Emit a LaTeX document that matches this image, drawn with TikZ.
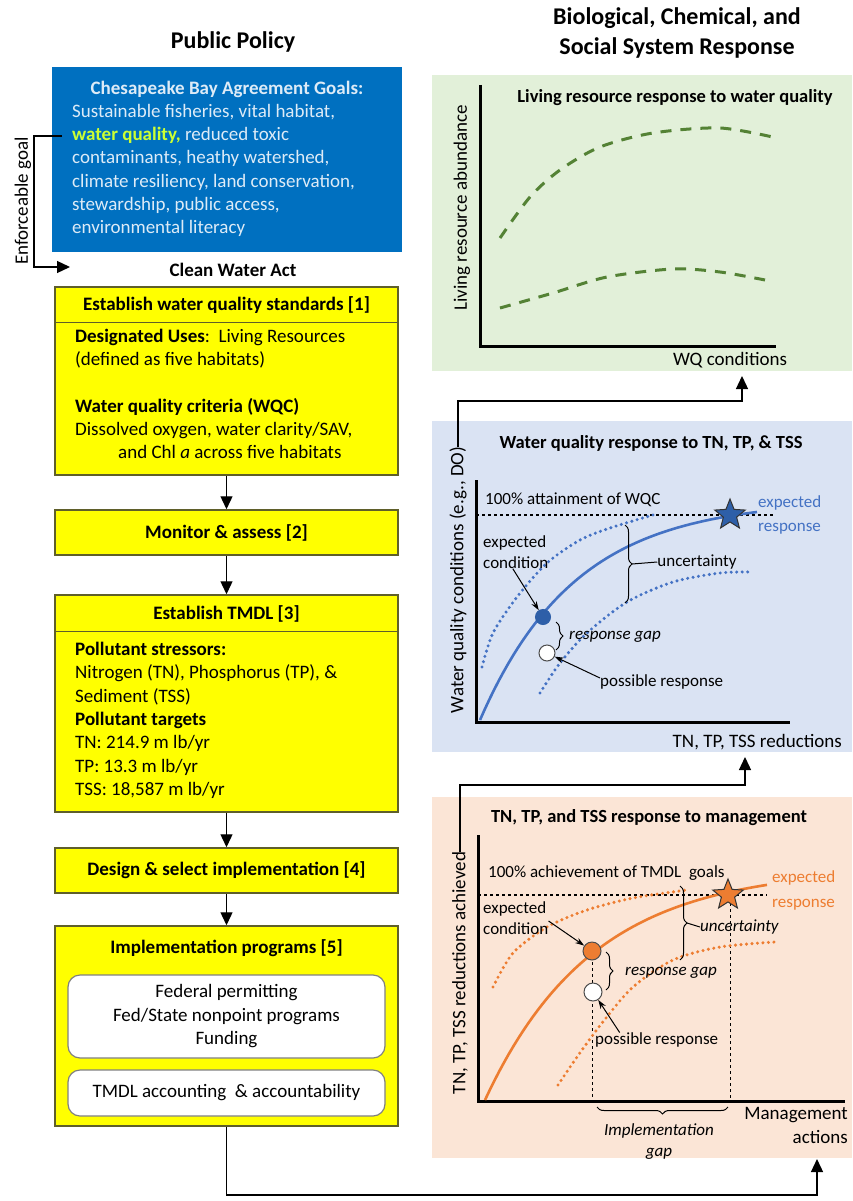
\documentclass[tikz,border=0pt]{standalone}
\usepackage{fontspec}
\setmainfont{Carlito}
\usepackage{tikz}
\usetikzlibrary{arrows.meta,calc,decorations.pathreplacing,shapes.geometric}
\definecolor{GoalBlue}{HTML}{0070C0}
\definecolor{GoalText}{HTML}{DDEBF7}
\definecolor{WQYellow}{HTML}{CCFF33}
\definecolor{BoxYellow}{HTML}{FFFF00}
\definecolor{BoxEdge}{HTML}{5F5F2A}
\definecolor{LeafBG}{HTML}{E2F0D9}
\definecolor{LeafDash}{HTML}{548235}
\definecolor{SkyBG}{HTML}{DAE3F3}
\definecolor{SkyLine}{HTML}{4472C4}
\definecolor{SkyStar}{HTML}{2E5FA8}
\definecolor{PeachBG}{HTML}{FBE5D6}
\definecolor{PeachLine}{HTML}{ED7D31}

\begin{document}
\begin{tikzpicture}[x=1pt,y=-1pt,
    head/.style={font=\fontsize{24}{30}\selectfont\bfseries,align=center},
    txt/.style={font=\fontsize{19}{23.3}\selectfont,align=left,inner sep=0pt},
    btxt/.style={font=\fontsize{19}{23}\selectfont\bfseries,inner sep=0pt},
    ybox/.style={draw=BoxEdge,fill=BoxYellow,line width=1.5pt,minimum width=343pt,inner sep=0pt},
    rbox/.style={draw=gray,fill=white,rounded corners=12pt,line width=1.2pt,minimum width=317pt,
      font=\fontsize{19}{23.5}\selectfont,align=center},
    flow/.style={-{Triangle[length=13pt,width=12pt]},line width=1.3pt},
    axis/.style={line width=3pt},
    lbl/.style={font=\fontsize{19}{24}\selectfont,inner sep=0pt},
    note/.style={font=\fontsize{17}{21}\selectfont,inner sep=0pt},
    ptitle/.style={font=\fontsize{18.5}{22}\selectfont\bfseries,inner sep=0pt},
    ptr/.style={-{Stealth[length=9pt,width=6pt]},line width=1pt},
    brc/.style={decorate,decoration={brace,amplitude=7pt},line width=1pt},
    dotline/.style={line width=3.4pt,line cap=round,dash pattern=on 0pt off 5.5pt},
    dot/.style={circle,draw=black!70,line width=1pt,minimum size=16pt,inner sep=0pt},
    goal/.style={star,star points=5,star point ratio=2.3,draw=black!80,line width=1pt,minimum size=32pt,inner sep=0pt}]

    \useasboundingbox (0,0) rectangle (852,1201);

    % column headings
    \node[head] (pp) at (233,42) {Public Policy};
    \node[head] (bcs) at (677,33) {Biological, Chemical, and\\Social System Response};

    % --- public policy column ---
    \node[fill=GoalBlue,minimum width=350pt,minimum height=185pt,inner sep=0pt] (goals) at (227,159.5) {};
    \node[btxt,text=GoalText] (goalshead) at (227,89) {Chesapeake Bay Agreement Goals:};
    \node[txt,text=GoalText,anchor=north west] (goalsbody) at (72,104)
      {Sustainable fisheries, vital habitat,\\
       {\color{WQYellow}\bfseries water quality,} reduced toxic\\
       contaminants, heathy watershed,\\
       climate resiliency, land conservation,\\
       stewardship, public access,\\
       environmental literacy};

    \coordinate (wq) at (62,136);
    \coordinate (cwatip) at (70,267);
    \node[btxt] (cwa) at (233,270) {Clean Water Act};
    \draw[flow] (wq) -- ++(-28,0) |- (cwatip);
    \node[txt,rotate=90] (enf) at (23,201) {Enforceable goal};

    \node[ybox,minimum height=188pt] (std) at (226.5,381) {};
    \draw[BoxEdge,line width=1.5pt] ([yshift=-36pt]std.north west) -- ([yshift=-36pt]std.north east);
    \node[btxt] (stdhead) at (226.5,305) {Establish water quality standards [1]};
    \node[txt,anchor=north west] (stdbody) at (75,329)
      {\textbf{Designated Uses}:\ \ Living Resources\\
       (defined as five habitats)\\[23pt]
       \textbf{Water quality criteria (WQC)}\\
       Dissolved oxygen, water clarity/SAV,\\
       \hspace*{43pt}and Chl \textit{a} across five habitats};

    \node[ybox,minimum height=45pt,font=\fontsize{19}{23}\selectfont\bfseries] (monitor) at (226.5,532.5) {Monitor \& assess [2]};

    \node[ybox,minimum height=217pt] (tmdl) at (226.5,703.5) {};
    \draw[BoxEdge,line width=1.5pt] ([yshift=-37pt]tmdl.north west) -- ([yshift=-37pt]tmdl.north east);
    \node[btxt] (tmdlhead) at (226.5,614) {Establish TMDL [3]};
    \node[txt,anchor=north west] (tmdlbody) at (75,642)
      {\textbf{Pollutant stressors:}\\
       Nitrogen (TN), Phosphorus (TP), \&\\
       Sediment (TSS)\\
       \textbf{Pollutant targets}\\
       TN: 214.9 m lb/yr\\
       TP: 13.3 m lb/yr\\
       TSS: 18,587 m lb/yr};

    \node[ybox,minimum height=45pt,font=\fontsize{19}{23}\selectfont\bfseries] (design) at (226.5,870.5) {Design \& select implementation [4]};

    \node[ybox,minimum height=200pt] (impl) at (226.5,1026) {};
    \node[btxt] (implhead) at (226.5,948) {Implementation programs [5]};
    \node[rbox,minimum height=83pt] (fund) at (226.5,1016.5) {Federal permitting\\Fed/State nonpoint programs\\Funding};
    \node[rbox,minimum height=46pt] (acct) at (226.5,1093) {TMDL accounting\ \ \& accountability};

    \draw[flow] (std) -- (monitor);
    \draw[flow] (monitor) -- (tmdl);
    \draw[flow] (tmdl) -- (design);
    \draw[flow] (design) -- (impl);

    % --- living resource panel ---
    \fill[LeafBG] (432,75) rectangle (852,371);
    \node[ptitle] (lrtitle) at (675,98) {Living resource response to water quality};
    \node[lbl,rotate=90] (ylab1) at (462,208) {Living resource abundance};
    \node[lbl] (xlab1) at (730,360) {WQ conditions};
    \draw[axis] (480,85) -- (480,346) -- (776,346);
    \draw[LeafDash,line width=3pt,dash pattern=on 11pt off 9pt] plot[smooth]
      coordinates {(500,238) (530,197) (560,170) (600,147) (653,133) (720,128) (777,138)};
    \draw[LeafDash,line width=3pt,dash pattern=on 11pt off 9pt] plot[smooth]
      coordinates {(500,308) (553,293) (607,277) (673,269) (720,272) (765,280)};
    \coordinate (wqtip) at (742,376);

    % --- water quality panel ---
    \fill[SkyBG] (432,421) rectangle (852,752);
    \node[ptitle] (wqtitle) at (651,443) {Water quality response to TN, TP, \& TSS};
    \node[lbl,rotate=90] (ylab2) at (458,580) {Water quality conditions (e.g., DO)};
    \node[lbl,anchor=east] (xlab2) at (842,742) {TN, TP, TSS reductions};
    \draw[axis] (476,480) -- (476,722) -- (790,722);
    \draw[dashed,line width=1.2pt] (476,515) -- (775,515);
    \node[note,anchor=west] (att) at (485,500) {100\% attainment of WQC};
    \draw[SkyLine,dotline] plot[smooth]
      coordinates {(482,667) (493,633) (517,597) (547,563) (580,540) (610,528) (653,515)};
    \draw[SkyLine,dotline] plot[smooth]
      coordinates {(540,693) (560,663) (587,633) (627,602) (673,582) (720,573) (753,572)};
    \draw[SkyLine,line width=2.6pt] plot[domain=480:757,samples=60]
      ({\x},{720-220*(1-exp(-0.0105*(\x-480)))});
    \node[dot,fill=SkyStar,draw=SkyStar,minimum size=15pt] (dot2) at (543,617) {};
    \node[dot,fill=white] (gap2) at (547,653) {};
    \node[goal,fill=SkyStar] (star2) at (730,515) {};
    \node[note,text=SkyLine,align=left,anchor=west,font=\fontsize{17}{24}\selectfont] (exp2) at (758,515) {expected\\response};
    \node[note,align=left,anchor=west] (cond2) at (483,552) {expected\\condition};
    \draw[ptr] ([xshift=-3pt]cond2.south) -- (dot2);
    \draw[brc] (625,525) -- (625,603);
    \node[note] (unc2) at (697,562) {uncertainty};
    \draw[line width=1pt] (632,564) -- (unc2.west);
    \draw[brc] (556,622) -- (556,650);
    \node[note,anchor=west,font=\fontsize{17}{21}\selectfont\itshape] (rgap2) at (569,637) {response gap};
    \node[note,anchor=west] (poss2) at (600,682) {possible response};
    \draw[ptr] ([yshift=4pt]poss2.west) -- (gap2);
    \coordinate (wqbar) at (0,401);
    \draw[flow] (ylab2.east) -- (ylab2.east |- wqbar) -| (wqtip);
    \coordinate (redtip) at (745,757);

    % --- management panel ---
    \fill[PeachBG] (432,797) rectangle (852,1158);
    \node[ptitle] (mgtitle) at (649,818) {TN, TP, and TSS response to management};
    \node[lbl,rotate=90] (ylab3) at (460,973) {TN, TP, TSS reductions achieved};
    \draw[axis] (478,835) -- (478,1101) -- (845,1101);
    \draw[dashed,line width=1.2pt] (478,895) -- (767,895);
    \node[note,anchor=west] (ach) at (488,873) {100\% achievement of TMDL\ \ goals};
    \draw[dashed,line width=1pt] (592,950) -- (592,1101);
    \draw[dashed,line width=1pt] (730,897) -- (730,1101);
    \draw[PeachLine,dotline] plot[smooth]
      coordinates {(493,987) (513,953) (547,927) (587,910) (633,898) (687,890)};
    \draw[PeachLine,dotline] plot[smooth]
      coordinates {(558,1085) (577,1057) (602,1023) (633,987) (673,960) (720,947) (775,942)};
    \draw[PeachLine,line width=2.6pt] plot[domain=485:767,samples=60]
      ({\x},{1100-232*(1-exp(-0.0093*(\x-485)))});
    \node[dot,fill=PeachLine,minimum size=18pt] (dot3) at (592,951) {};
    \node[dot,fill=white,minimum size=18pt] (gap3) at (593,992) {};
    \node[goal,fill=PeachLine] (star3) at (728,895) {};
    \node[note,text=PeachLine,align=left,anchor=west,font=\fontsize{17}{25}\selectfont] (exp3) at (772,890) {expected\\response};
    \node[note,align=left,anchor=west] (cond3) at (483,918) {expected\\condition};
    \draw[ptr] ([yshift=-3pt]cond3.east) -- (dot3);
    \draw[brc] (680,886) -- (680,960);
    \node[note,anchor=west,font=\fontsize{17}{21}\selectfont\itshape] (unc3) at (700,927) {uncertainty};
    \draw[line width=1pt] (687,923) -- (unc3.west);
    \draw[brc] (606,952) -- (606,990);
    \node[note,anchor=west,font=\fontsize{17}{21}\selectfont\itshape] (rgap3) at (625,973) {response gap};
    \node[note,anchor=west] (poss3) at (595,1040) {possible response};
    \draw[ptr] ($(poss3.north west)!0.2!(poss3.north east)$) -- (gap3);
    \draw[brc] (728,1107) -- (597,1107);
    \node[note,align=center,font=\fontsize{17}{21}\selectfont\itshape] (implgap) at (659,1142) {Implementation\\gap};
    \node[lbl,align=right,anchor=east] (mgmt) at (848,1125) {Management\\actions};
    \coordinate (redbar) at (0,785);
    \draw[flow] (ylab3.east) -- (ylab3.east |- redbar) -| (redtip);

    % feedback from implementation to management actions
    \coordinate (mgmttip) at (817,1159);
    \coordinate (basebar) at (0,1195);
    \draw[flow] (impl) -- (impl |- basebar) -| (mgmttip);
\end{tikzpicture}
\end{document}
